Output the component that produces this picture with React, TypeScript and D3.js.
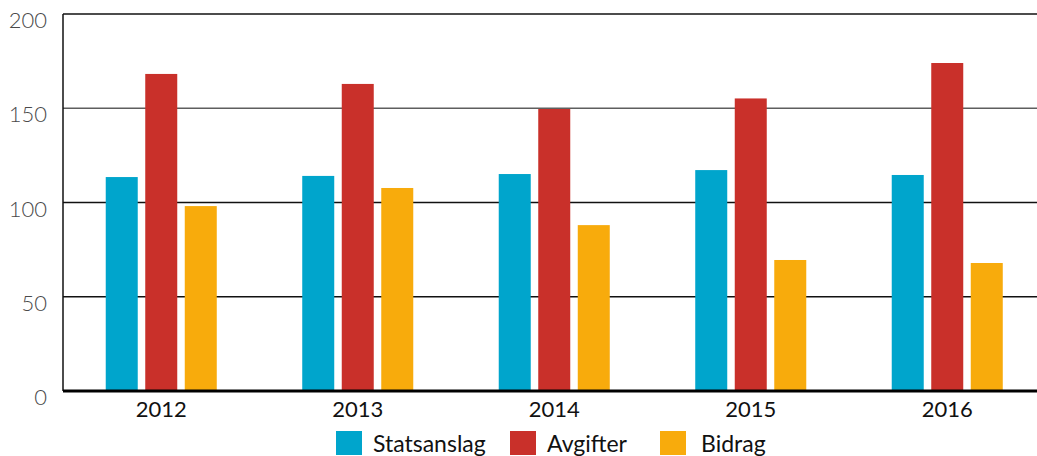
import { axisLeft, scaleBand, scaleLinear, select } from 'd3';
import React, { useEffect, useRef } from 'react';

const years = ['2012', '2013', '2014', '2015', '2016'];
const seriesNames = ['Statsanslag', 'Avgifter', 'Bidrag'];
const seriesColors = ['#00a5cc', '#c9302a', '#f8ab0c'];
const statsanslag = [113.5, 114.1, 115.1, 117.2, 114.6];
const avgifter = [168.2, 162.9, 149.6, 155.2, 174.0];
const bidrag = [98.1, 107.7, 88.0, 69.5, 67.9];
const yTicks = [0, 50, 100, 150, 200];

const W = 1037;
const H = 456;

export default function App() {
  const svgRef = useRef<SVGSVGElement>(null);

  useEffect(() => {
    document.body.style.margin = '0';
    const svg = select(svgRef.current);
    svg.selectAll('*').remove();

    const left = 63;
    const top = 14;
    const bottom = 391;

    const x = scaleBand<string>()
      .domain(years)
      .range([left, left + 5 * 196.5])
      .paddingInner(0.435)
      .paddingOuter(0.2175);
    const xs = scaleBand<string>()
      .domain(seriesNames)
      .range([0, x.bandwidth()])
      .paddingInner(0.19);
    const y = scaleLinear().domain([0, 200]).range([bottom, top]);

    const values = [statsanslag, avgifter, bidrag];

    // gridlines
    svg
      .append('g')
      .selectAll('line')
      .data(yTicks.filter(t => t > 0))
      .join('line')
      .attr('x1', left)
      .attr('x2', W)
      .attr('y1', d => y(d))
      .attr('y2', d => y(d))
      .attr('stroke', d => (d === 150 ? '#5e5e5e' : '#111'))
      .attr('stroke-width', d => (d === 200 ? 1.5 : 1.6));

    // bars
    seriesNames.forEach((name, si) => {
      svg
        .append('g')
        .selectAll('rect')
        .data(values[si])
        .join('rect')
        .attr('x', (_, i) => (x(years[i]) ?? 0) + (xs(name) ?? 0))
        .attr('width', xs.bandwidth())
        .attr('y', d => y(d))
        .attr('height', d => y(0) - y(d))
        .attr('fill', seriesColors[si]);
    });

    // left axis line + baseline
    svg
      .append('line')
      .attr('x1', left)
      .attr('x2', left)
      .attr('y1', top)
      .attr('y2', bottom)
      .attr('stroke', '#111')
      .attr('stroke-width', 1.5);
    svg
      .append('line')
      .attr('x1', left)
      .attr('x2', W)
      .attr('y1', bottom)
      .attr('y2', bottom)
      .attr('stroke', '#000')
      .attr('stroke-width', 3);

    // y tick labels
    const yAxis = svg
      .append('g')
      .attr('transform', `translate(${left},0)`)
      .call(axisLeft(y).tickValues(yTicks).tickSize(0).tickPadding(16));
    yAxis.select('.domain').remove();
    yAxis
      .selectAll('text')
      .attr('dy', '0.62em')
      .attr('fill', '#4a4a4a')
      .style('font-family', 'Lato')
      .style('font-weight', '300')
      .style('font-size', '22px');

    // x labels
    svg
      .append('g')
      .selectAll('text')
      .data(years)
      .join('text')
      .attr('x', d => (x(d) ?? 0) + x.bandwidth() / 2)
      .attr('y', 417)
      .attr('text-anchor', 'middle')
      .attr('fill', '#111')
      .style('font-family', 'Lato')
      .style('font-size', '22px')
      .text(d => d);

    // legend
    const swatchX = [336, 510, 660];
    const textX = [373, 547, 701];
    const lg = svg.append('g');
    seriesNames.forEach((name, i) => {
      lg.append('rect')
        .attr('x', swatchX[i])
        .attr('y', 431)
        .attr('width', 26)
        .attr('height', 24)
        .attr('fill', seriesColors[i]);
      lg.append('text')
        .attr('x', textX[i])
        .attr('y', 452)
        .attr('fill', '#111')
        .style('font-family', 'Lato')
        .style('font-size', '23px')
        .text(name);
    });
  }, []);

  return <svg ref={svgRef} width={W} height={H} style={{ display: 'block', background: '#fff' }} />;
}
